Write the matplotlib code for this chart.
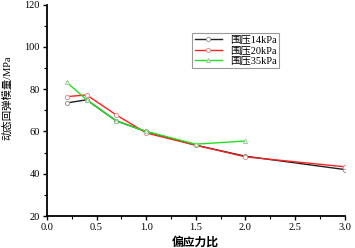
import matplotlib
matplotlib.use("Agg")
import matplotlib.pyplot as plt
from matplotlib.ticker import MultipleLocator

x_14 = [0.2, 0.4, 0.7, 1.0, 1.5, 2.0, 3.0]
y_14 = [73.5, 75.0, 65.0, 60.0, 53.5, 48.3, 42.0]
x_20 = [0.2, 0.4, 0.7, 1.0, 1.5, 2.0, 3.0]
y_20 = [76.5, 77.3, 67.8, 59.3, 53.5, 48.0, 43.3]
x_35 = [0.2, 0.4, 0.7, 1.0, 1.5, 2.0]
y_35 = [83.3, 75.0, 65.0, 60.0, 54.0, 55.5]
labels = ["围压14kPa", "围压20kPa", "围压35kPa"]

fam = ['Liberation Serif', 'Noto Sans CJK SC']
plt.rcParams['font.family'] = fam

fig = plt.figure(figsize=(3.55, 2.48), dpi=100)
ax = fig.add_axes([0.132, 0.129, 0.839, 0.852])

ax.plot(x_14, y_14, color='#202020', lw=1.0, marker='o', ms=3, mfc='white', mec='#999999', mew=0.7, label=labels[0])
ax.plot(x_20, y_20, color='#ff2020', lw=1.0, marker='o', ms=3, mfc='white', mec='#e09090', mew=0.7, label=labels[1])
ax.plot(x_35, y_35, color='#20e020', lw=1.0, marker='^', ms=3, mfc='white', mec='#99cc99', mew=0.7, label=labels[2])

ax.set_xlim(0, 3.0)
ax.set_ylim(20, 120)
ax.xaxis.set_major_locator(MultipleLocator(0.5))
ax.xaxis.set_minor_locator(MultipleLocator(0.25))
ax.yaxis.set_major_locator(MultipleLocator(20))
ax.yaxis.set_minor_locator(MultipleLocator(10))
ax.set_xticklabels([f"{v:.1f}" for v in ax.get_xticks()])
for s in ['top', 'right']:
    ax.spines[s].set_visible(False)
for s in ['left', 'bottom']:
    ax.spines[s].set_linewidth(1.3)
ax.tick_params(which='major', direction='out', length=3, width=1, labelsize=7.5, pad=2)
ax.tick_params(which='minor', direction='out', length=2, width=0.8)

ax.set_xlabel("偏应力比", fontsize=8.5, fontweight='bold')
ax.xaxis.set_label_coords(0.5, -0.1)
ax.set_ylabel("动态回弹模量/MPa", fontsize=7.5)
ax.yaxis.set_label_coords(-0.115, 0.56)

leg = ax.legend(loc='upper left', bbox_to_anchor=(0.47, 0.89), fontsize=7.5,
                frameon=True, fancybox=False, edgecolor='#999999', framealpha=1,
                handlelength=2.6, handletextpad=0.8, borderpad=0.25, labelspacing=0.1)
leg.get_frame().set_linewidth(0.8)

fig.savefig("out.png", dpi=100)
